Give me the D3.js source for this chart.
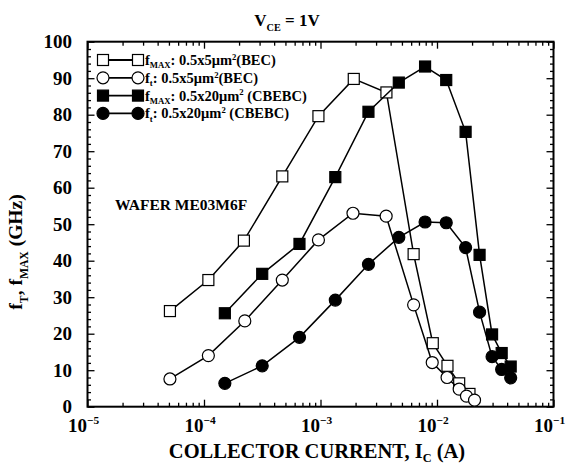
<!DOCTYPE html>
<html>
<head>
<meta charset="utf-8">
<script src="https://cdn.jsdelivr.net/npm/d3@7"></script>
<style>
  html, body { margin: 0; padding: 0; background: #fff; }
  svg { display: block; }
</style>
</head>
<body>
<svg id="chart" width="567" height="464" font-family="'Liberation Serif', 'DejaVu Serif', serif" font-weight="bold"></svg>
<script>
// Collector current (A) and cutoff / max oscillation frequencies (GHz)
const becCurrent   = [5.1e-5, 1.09e-4, 2.2e-4, 4.7e-4, 9.6e-4, 1.93e-3, 3.68e-3, 6.3e-3, 9.2e-3, 1.23e-2, 1.55e-2, 1.9e-2];
const becFmax      = [26.2, 34.7, 45.5, 63.1, 79.6, 89.8, 86.1, 41.8, 17.4, 11.2, 6.4, 3.5];
const becFtCurrent = [5.1e-5, 1.09e-4, 2.24e-4, 4.7e-4, 9.6e-4, 1.9e-3, 3.66e-3, 6.3e-3, 9.1e-3, 1.22e-2, 1.55e-2, 1.79e-2, 2.1e-2];
const becFt        = [7.6, 14.0, 23.5, 34.7, 45.7, 53.0, 52.2, 27.9, 12.1, 8.0, 4.8, 2.9, 1.8];
const cbebcCurrent = [1.51e-4, 3.16e-4, 6.6e-4, 1.34e-3, 2.58e-3, 4.7e-3, 7.9e-3, 1.2e-2, 1.76e-2, 2.32e-2, 2.97e-2, 3.59e-2, 4.29e-2];
const cbebcFmax    = [25.6, 36.4, 44.6, 62.9, 80.8, 88.8, 93.2, 89.5, 75.3, 41.6, 19.8, 14.7, 11.0];
const cbebcFt      = [6.4, 11.2, 19.0, 29.2, 39.0, 46.4, 50.6, 50.4, 43.6, 25.9, 13.7, 10.2, 7.9];

const xDecades = [-5, -4, -3, -2, -1];
const yTicks   = [0, 10, 20, 30, 40, 50, 60, 70, 80, 90, 100];

const series = [
  { x: becCurrent,   y: becFmax,   shape: "square", fill: "#fff",
    label: [{t:"f"},{t:"MAX",sub:true},{t:": 0.5x5μm"},{t:"2",sup:true},{t:"(BEC)"}] },
  { x: becFtCurrent, y: becFt,     shape: "circle", fill: "#fff",
    label: [{t:"f"},{t:"t",sub:true},{t:": 0.5x5μm"},{t:"2",sup:true},{t:"(BEC)"}] },
  { x: cbebcCurrent, y: cbebcFmax, shape: "square", fill: "#000",
    label: [{t:"f"},{t:"MAX",sub:true},{t:": 0.5x20μm"},{t:"2",sup:true},{t:" (CBEBC)"}] },
  { x: cbebcCurrent, y: cbebcFt,   shape: "circle", fill: "#000",
    label: [{t:"f"},{t:"t",sub:true},{t:": 0.5x20μm"},{t:"2",sup:true},{t:" (CBEBC)"}] }
];

const svg = d3.select("#chart");
const L = 87.5, R = 553.5, T = 41.7, B = 406.7;
const x = d3.scaleLog().domain([1e-5, 1e-1]).range([L, R]);
const y = d3.scaleLinear().domain([0, 100]).range([B, T]);

// Writes text with subscript / superscript runs
function richText(sel, parts, size, subShift = 0.3, supShift = 0.42) {
  let shift = 0;
  sel.attr("font-size", size);
  parts.forEach(p => {
    const target = p.sub ? size * subShift : p.sup ? -size * supShift : 0;
    sel.append("tspan")
      .attr("dy", target - shift)
      .attr("font-size", (p.sub || p.sup) ? size * 0.6 : size)
      .text(p.t);
    shift = target;
  });
}

// minor tick positions
const xMinor = [];
for (let e = -5; e < -1; e++) for (let k = 2; k <= 9; k++) xMinor.push(k * Math.pow(10, e));
const yMinor = d3.range(0, 101, 2).filter(v => v % 10 !== 0);

function tickGroup(axis, transform) {
  const g = svg.append("g").attr("transform", transform).call(axis);
  g.select(".domain").remove();
  g.selectAll("text").remove();
  g.selectAll("line").attr("stroke", "#000").attr("stroke-width", 1.3);
  return g;
}
const xMajorVals = xDecades.map(e => Math.pow(10, e));
tickGroup(d3.axisBottom(x).tickValues(xMajorVals).tickSize(-7), `translate(0,${B})`);
tickGroup(d3.axisBottom(x).tickValues(xMinor).tickSize(-4), `translate(0,${B})`);
tickGroup(d3.axisTop(x).tickValues(xMajorVals).tickSize(-7), `translate(0,${T})`);
tickGroup(d3.axisTop(x).tickValues(xMinor).tickSize(-4), `translate(0,${T})`);
tickGroup(d3.axisLeft(y).tickValues(yTicks).tickSize(-7), `translate(${L},0)`);
tickGroup(d3.axisLeft(y).tickValues(yMinor).tickSize(-3.5), `translate(${L},0)`);
tickGroup(d3.axisRight(y).tickValues(yTicks).tickSize(-7), `translate(${R},0)`);
tickGroup(d3.axisRight(y).tickValues(yMinor).tickSize(-3.5), `translate(${R},0)`);

// frame
svg.append("rect").attr("x", L).attr("y", T).attr("width", R - L).attr("height", B - T)
  .attr("fill", "none").attr("stroke", "#000").attr("stroke-width", 2);

// tick labels
xDecades.forEach(e => {
  const t = svg.append("text").attr("x", x(Math.pow(10, e)) - 4).attr("y", 432)
    .attr("text-anchor", "middle");
  richText(t, [{t:"10"},{t:"−" + Math.abs(e), sup:true}], 19);
});
svg.selectAll(".ylab").data(yTicks).enter().append("text")
  .attr("x", 72).attr("y", d => y(d)).attr("dy", "0.35em")
  .attr("text-anchor", "end").attr("font-size", 19).text(d => d);

// axis titles
const xt = svg.append("text").attr("x", 317).attr("y", 458).attr("text-anchor", "middle");
richText(xt, [{t:"COLLECTOR CURRENT, I"},{t:"C",sub:true},{t:" (A)"}], 20.5, 0.2);
const yt = svg.append("text").attr("transform", "translate(22,252) rotate(-90)").attr("text-anchor", "middle");
richText(yt, [{t:"f"},{t:"T",sub:true},{t:", f"},{t:"MAX",sub:true},{t:" (GHz)"}], 19.5);
const tt = svg.append("text").attr("x", 287).attr("y", 26).attr("text-anchor", "middle");
richText(tt, [{t:"V"},{t:"CE",sub:true},{t:" = 1V"}], 17);

svg.append("text").attr("x", 115).attr("y", 210).attr("font-size", 15.5).text("WAFER ME03M6F");

// data series
const line = d3.line().x(d => x(d[0])).y(d => y(d[1]));
function marker(g, shape, fill, cx, cy) {
  if (shape === "square") {
    g.append("rect").attr("x", cx - 5.5).attr("y", cy - 5.5).attr("width", 11).attr("height", 11)
      .attr("fill", fill).attr("stroke", "#000").attr("stroke-width", 1.2);
  } else {
    g.append("circle").attr("cx", cx).attr("cy", cy).attr("r", 6)
      .attr("fill", fill).attr("stroke", "#000").attr("stroke-width", 1.2);
  }
}
series.forEach(s => {
  const pts = s.x.map((v, i) => [v, s.y[i]]);
  const g = svg.append("g");
  g.append("path").datum(pts).attr("d", line).attr("fill", "none")
    .attr("stroke", "#000").attr("stroke-width", 1.5);
  pts.forEach(p => marker(g, s.shape, s.fill, x(p[0]), y(p[1])));
});

// legend
series.forEach((s, i) => {
  const ly = 60 + i * 17.8;
  const g = svg.append("g");
  g.append("line").attr("x1", 103).attr("x2", 138).attr("y1", ly).attr("y2", ly)
    .attr("stroke", "#000").attr("stroke-width", 1.8);
  marker(g, s.shape, s.fill, 103, ly);
  marker(g, s.shape, s.fill, 138, ly);
  const t = g.append("text").attr("x", 145).attr("y", ly + 5);
  richText(t, s.label, 14.5, 0.22, 0.36);
});
</script>
</body>
</html>
